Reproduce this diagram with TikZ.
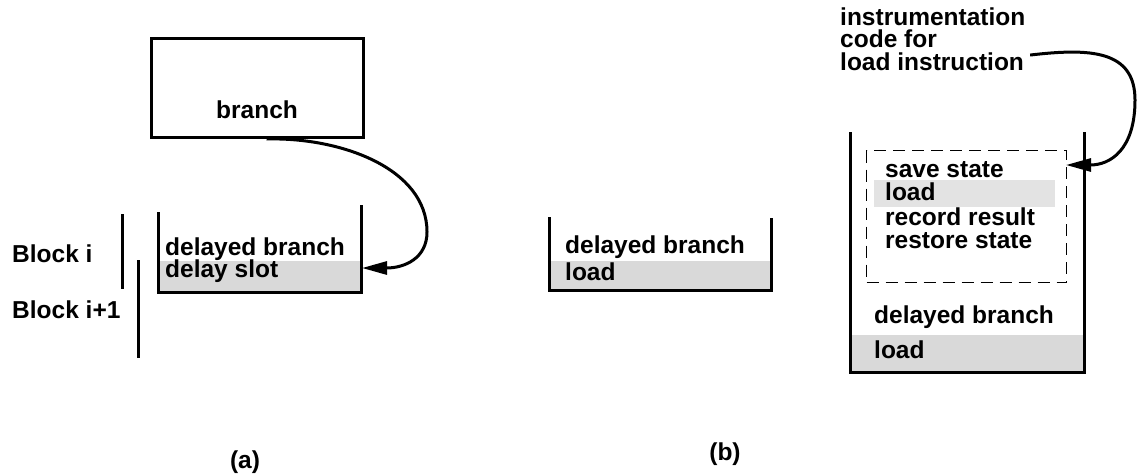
\documentclass[tikz,border=0pt]{standalone}
\usepackage{fontspec}
\setmainfont{Liberation Sans}
\usetikzlibrary{arrows.meta}
\definecolor{slotgray}{HTML}{D9D9D9}
\definecolor{bandgray}{HTML}{E3E3E3}
\tikzset{
  txt/.style={anchor=base west, inner sep=0pt, font=\fontsize{24.5}{24.5}\selectfont\bfseries},
  ctxt/.style={anchor=base, inner sep=0pt, font=\fontsize{24.5}{24.5}\selectfont\bfseries},
  thick line/.style={line width=3pt},
  bar/.style={line width=3pt},
  fillbox/.style={fill=#1, draw=none, inner sep=0pt, anchor=north west},
  dashbox/.style={draw, line width=1pt, dash pattern=on 12pt off 7pt, inner sep=0pt, anchor=north west},
  curved/.style={line width=3pt, -{Triangle[length=25pt,width=13pt]}},
}
\begin{document}
\begin{tikzpicture}[x=1pt,y=-1pt]
\useasboundingbox (0,0) rectangle (1137,475);

% ---------- panel (a) ----------
\node[draw, thick line, minimum width=212pt, minimum height=99pt, inner sep=0pt, anchor=north west] (brbox) at (150,37) {};
\node[ctxt] (brtext) at (257,118) {branch};

\node[fillbox=slotgray, minimum width=203pt, minimum height=31pt] (slotA) at (158,261) {};
\draw[thick line] (158,212) -- (158,292) -- (361,292) -- (361,205);
\node[txt] (dbA) at (165,255) {delayed branch};
\node[txt] (dsA) at (165,277) {delay slot};

\node[txt] (blki) at (12,262) {Block i};
\node[txt] (blki1) at (12,318) {Block i+1};
\coordinate (bi1) at (122,214);
\coordinate (bi2) at (122,289);
\coordinate (bj1) at (138,260);
\coordinate (bj2) at (138,358);
\draw[bar] (bi1) -- (bi2);
\draw[bar] (bj1) -- (bj2);

\coordinate (startA) at ([xshift=9pt]brbox.south);
\coordinate (tipA) at (362,268);
\draw[curved] (startA) .. controls (340,137) and (427,168) .. (427,232)
   .. controls (427,258) and (405,268) .. (tipA);

\node[ctxt] (labA) at (245,468) {(a)};

% ---------- panel (b), middle ----------
\node[fillbox=slotgray, minimum width=222pt, minimum height=29pt] (slotB) at (549,261) {};
\draw[thick line] (549,217) -- (549,290) -- (771,290) -- (771,218);
\node[txt] (dbB) at (565,253) {delayed branch};
\node[txt] (ldB) at (565,280) {load};

% ---------- panel (b), right ----------
\node[fillbox=slotgray, minimum width=234pt, minimum height=37pt] (slotC) at (850,335) {};
\node[fillbox=bandgray, minimum width=181pt, minimum height=27pt] (bandC) at (874,180) {};
\node[dashbox, minimum width=200pt, minimum height=132pt] (instr) at (866,150) {};
\draw[thick line] (850,132) -- (850,372) -- (1084,372) -- (1084,132);

\node[txt] (ss) at (885,177) {save state};
\node[txt] (ld) at (885,200) {load};
\node[txt] (rr) at (885,225) {record result};
\node[txt] (rs) at (885,248) {restore state};
\node[txt] (dbC) at (874,323) {delayed branch};
\node[txt] (ldC) at (874,358) {load};

\node[txt] (ic1) at (840,25) {instrumentation};
\node[txt] (ic2) at (840,47) {code for};
\node[txt] (ic3) at (840,70) {load instruction};

\coordinate (startC) at ([xshift=6pt, yshift=-3pt]ic3.north east);
\coordinate (tipC) at (1066,165);
\draw[curved] (startC) .. controls (1090,48) and (1135,50) .. (1135,100)
   .. controls (1135,150) and (1110,165) .. (tipC);

\node[ctxt] (labB) at (725,460) {(b)};
\end{tikzpicture}
\end{document}
